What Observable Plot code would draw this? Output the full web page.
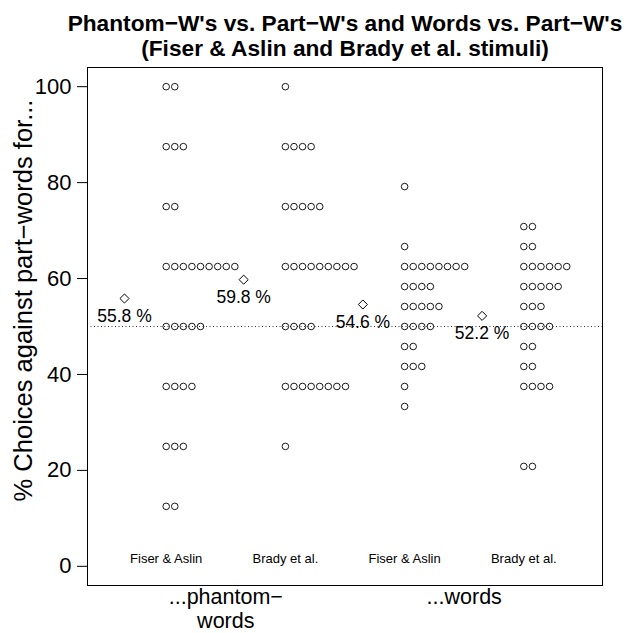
<!DOCTYPE html>
<html>
<head>
<meta charset="utf-8">
<script src="https://cdn.jsdelivr.net/npm/d3@7"></script>
<script src="https://cdn.jsdelivr.net/npm/@observablehq/plot@0.6"></script>
<style>
  html, body { margin: 0; padding: 0; background: #fff; }
  #chart svg { display: block; }
</style>
</head>
<body>
<div id="chart"></div>
<script>
// ---- data ----
const titleLines = ["Phantom\u2212W's vs. Part\u2212W's and Words vs. Part\u2212W's", "(Fiser & Aslin and Brady et al. stimuli)"];
const yTitle = "% Choices against part\u2212words for...";
const studies = ["Fiser & Aslin", "Brady et al.", "Fiser & Aslin", "Brady et al."];
const conditionLine1 = ["...phantom\u2212", "...words"];
const conditionLine2 = ["words", ""];
const yTicks = [0, 20, 40, 60, 80, 100];
const chance = 50;

// score levels (percent) and number of participants at each level
const phantomLevels = [100, 87.5, 75, 62.5, 50, 37.5, 25, 12.5];
const phantomFiserCounts = [2, 3, 2, 9, 5, 4, 3, 2];
const phantomBradyCounts = [1, 4, 5, 9, 4, 8, 1, 0];
const wordLevels = [79.17, 70.83, 66.67, 62.5, 58.33, 54.17, 50, 45.83, 41.67, 37.5, 33.33, 20.83];
const wordFiserCounts = [1, 0, 1, 8, 4, 5, 4, 2, 3, 1, 1, 0];
const wordBradyCounts = [0, 2, 2, 6, 5, 3, 4, 2, 2, 4, 0, 2];

// ---- build tables ----
const groups = [
  {levels: phantomLevels, counts: phantomFiserCounts},
  {levels: phantomLevels, counts: phantomBradyCounts},
  {levels: wordLevels, counts: wordFiserCounts},
  {levels: wordLevels, counts: wordBradyCounts}
];
const stackStep = 0.072;  // horizontal stacking offset (x units)
const meanOffset = 0.35;  // mean marker left of the strip (x units)

const dots = [];
const means = [];
groups.forEach((g, gi) => {
  const vals = [];
  g.levels.forEach((lv, li) => {
    for (let k = 0; k < g.counts[li]; k++) {
      dots.push({x: gi + 1 + k * stackStep, y: lv});
      vals.push(lv);
    }
  });
  const m = d3.mean(vals);
  means.push({x: gi + 1 - meanOffset, y: m, label: d3.format(".1f")(m) + " %"});
});
const studyLabels = studies.map((s, i) => ({x: i + 1, label: s}));
const condLabels1 = conditionLine1.map((c, i) => ({x: 2 * i + 1.5, label: c}));
const condLabels2 = conditionLine2.map((c, i) => ({x: 2 * i + 1.5, label: c})).filter(d => d.label);

const font = "'Liberation Sans', Arial, Helvetica, sans-serif";

const chart = Plot.plot({
  width: 624,
  height: 633,
  marginLeft: 87,
  marginRight: 22,
  marginTop: 67,
  marginBottom: 48,
  style: {fontFamily: font, background: "#fff", color: "#000"},
  x: {domain: [0.34, 4.66], axis: null},
  y: {domain: [-4, 104], axis: null},
  marks: [
    Plot.ruleY([chance], {stroke: "#000", strokeWidth: 0.8, strokeDasharray: "1,2.5"}),
    Plot.frame({stroke: "#000", strokeWidth: 1}),
    Plot.axisY({ticks: yTicks, tickSize: 10, tickPadding: 6, fontSize: 22, label: null, stroke: "#000"}),
    Plot.dot(dots, {x: "x", y: "y", r: 3.3, stroke: "#000", strokeWidth: 0.9, fill: "none"}),
    Plot.dot(means, {x: "x", y: "y", symbol: "diamond2", r: 4.1, stroke: "#000", strokeWidth: 1, fill: "none"}),
    Plot.text(means, {x: "x", y: "y", text: "label", dy: 18, fontSize: 17.5, fill: "#000"}),
    Plot.text(studyLabels, {x: "x", text: "label", frameAnchor: "bottom", dy: -23, fontSize: 13, fill: "#000"}),
    Plot.text(condLabels1, {x: "x", text: "label", frameAnchor: "bottom", dy: 18.5, fontSize: 21.5, fill: "#000"}),
    Plot.text(condLabels2, {x: "x", text: "label", frameAnchor: "bottom", dy: 42, fontSize: 21.5, fill: "#000"}),
    Plot.text([yTitle], {frameAnchor: "left", textAnchor: "middle", rotate: -90, dx: -64, dy: -26, fontSize: 25.5, fill: "#000"}),
    Plot.text([titleLines[0]], {frameAnchor: "top", dy: -53, fontSize: 22.7, fontWeight: "bold", fill: "#000"}),
    Plot.text([titleLines[1]], {frameAnchor: "top", dy: -28, fontSize: 22.7, fontWeight: "bold", fill: "#000"})
  ]
});
document.getElementById("chart").appendChild(chart);
</script>
</body>
</html>
